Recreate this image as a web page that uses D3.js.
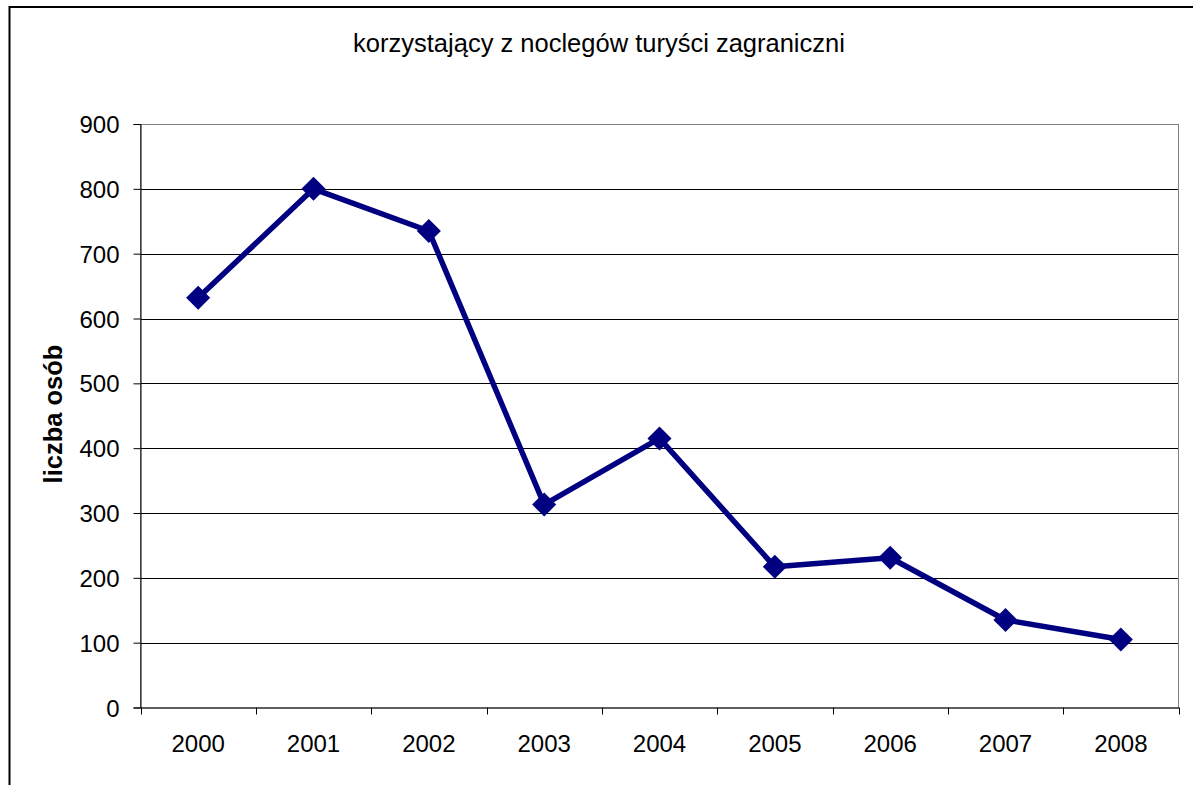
<!DOCTYPE html>
<html><head><meta charset="utf-8">
<script src="https://cdn.jsdelivr.net/npm/d3@7"></script>
<style>body{margin:0;background:#fff}svg{display:block}text{font-family:"Liberation Sans",Arial,sans-serif}</style>
</head><body>
<script>
const years = ["2000","2001","2002","2003","2004","2005","2006","2007","2008"];
const values = [632, 800, 735, 313, 415, 217, 231, 135, 105];
const yTicks = [0,100,200,300,400,500,600,700,800,900];
const title = "korzystający z noclegów turyści zagraniczni";
const yLabel = "liczba osób";

const W = 1193, H = 785;
const svg = d3.select("body").append("svg").attr("width", W).attr("height", H);
svg.append("rect").attr("x",9.5).attr("y",7).attr("width",1200).attr("height",800)
  .attr("fill","#fff").attr("stroke","#000").attr("stroke-width",2);

const L = 140.5, R = 1178.5, T = 124, B = 707.5;
const x = d3.scaleBand().domain(years).range([L, R]).padding(0);
const y = d3.scaleLinear().domain([0, 900]).range([B, T]);

// gridlines
svg.append("g").selectAll("line").data(yTicks.filter(d=>d>0 && d<900)).join("line")
  .attr("x1",L).attr("x2",R).attr("y1",d=>Math.round(y(d))+0.5).attr("y2",d=>Math.round(y(d))+0.5)
  .attr("stroke","#000").attr("stroke-width",1);
// plot border
svg.append("rect").attr("x",L).attr("y",T+0.5).attr("width",R-L).attr("height",B-T)
  .attr("fill","none").attr("stroke","#808080").attr("stroke-width",1);

// y axis
const ya = svg.append("g").attr("transform",`translate(${L},0)`)
  .call(d3.axisLeft(y).tickValues(yTicks).tickSize(7).tickPadding(14).tickFormat(d3.format("d")));
ya.select(".domain").attr("stroke","#000");
ya.selectAll(".tick line").attr("stroke","#000");
ya.selectAll("text").attr("font-size",24).attr("fill","#000").attr("dy","0.36em");

// x axis
const xa = svg.append("g").attr("transform",`translate(0,${B})`)
  .call(d3.axisBottom(x).tickSize(0).tickPadding(27));
xa.select(".domain").attr("stroke","#000");
xa.selectAll("text").attr("font-size",24).attr("fill","#000");
svg.append("g").selectAll("line").data(years.concat(["end"])).join("line")
  .attr("x1",(d,i)=>Math.round(L + i*x.bandwidth())+0.5).attr("x2",(d,i)=>Math.round(L + i*x.bandwidth())+0.5)
  .attr("y1",B).attr("y2",B+7).attr("stroke","#000");

// line
const cx = d => x(d) + x.bandwidth()/2;
svg.append("path").datum(values)
  .attr("d", d3.line().x((d,i)=>cx(years[i])).y(d=>y(d)))
  .attr("fill","none").attr("stroke","#000080").attr("stroke-width",5.5).attr("stroke-linejoin","round");
svg.append("g").selectAll("path").data(values).join("path")
  .attr("d", d3.symbol().type(d3.symbolSquare).size(290))
  .attr("transform",(d,i)=>`translate(${cx(years[i])},${y(d)}) rotate(45)`)
  .attr("fill","#000080");

svg.append("text").attr("x",599).attr("y",52).attr("text-anchor","middle")
  .attr("font-size",25.5).text(title);
svg.append("text").attr("transform","translate(62,414) rotate(-90)").attr("text-anchor","middle")
  .attr("font-size",25.5).attr("font-weight","bold").text(yLabel);
</script>
</body></html>
